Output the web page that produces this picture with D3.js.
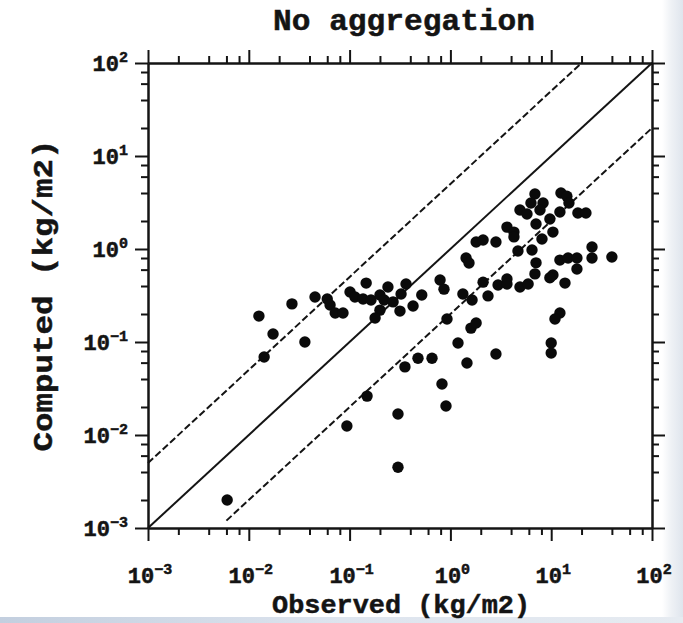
<!DOCTYPE html>
<html>
<head>
<meta charset="utf-8">
<script src="https://cdn.jsdelivr.net/npm/d3@7/dist/d3.min.js"></script>
<style>
  html, body { margin: 0; padding: 0; background: #ffffff; }
  svg { display: block; }
</style>
</head>
<body>
<svg id="chart" width="683" height="623"></svg>
<script>
// ---------------- data ----------------
const titleText = "No aggregation";
const xLabelText = "Observed (kg/m2)";
const yLabelText = "Computed (kg/m2)";

const majorExponents = [-3, -2, -1, 0, 1, 2];
const minorMultipliers = [2, 4, 6, 8];

// observed (x) and computed (y) values, kg/m2
const observed = [
  0.0061, 0.0126, 0.0142, 0.0174, 0.0268, 0.036, 0.0454, 0.060, 0.064, 0.072,
  0.086, 0.101, 0.113, 0.136, 0.146, 0.163, 0.20, 0.24, 0.22, 0.27,
  0.20, 0.179, 0.316, 0.324, 0.363, 0.426, 0.52, 0.79, 0.864, 0.094,
  0.149, 0.302, 0.302, 0.354, 0.477, 0.657, 0.825, 0.904, 0.925, 1.19,
  1.46, 1.60, 1.80, 2.83, 1.33, 1.64, 2.36, 1.43, 1.53, 1.80,
  2.11, 2.83, 2.11, 2.97, 3.64, 3.64, 4.9, 5.9,
  6.9, 12.5, 14.3, 6.3, 8.3, 15.0, 4.9, 5.75, 7.74, 9.7,
  12.2, 18.4, 22.1, 7.07, 3.64, 4.27, 4.27, 10.4, 8.1, 4.68,
  6.45, 25.4, 25.4, 40.0, 12.2, 14.7, 18.0, 18.0, 7.07, 6.9,
  10.4, 9.7, 13.7, 12.2, 10.9, 10.0, 10.0
];
const computed = [
  0.0020, 0.19, 0.069, 0.122, 0.257, 0.10, 0.305, 0.29, 0.25, 0.205,
  0.205, 0.345, 0.305, 0.29, 0.43, 0.283, 0.32, 0.39, 0.283, 0.27,
  0.22, 0.181, 0.215, 0.328, 0.42, 0.244, 0.32, 0.464, 0.37, 0.0125,
  0.0262, 0.0168, 0.0045, 0.054, 0.067, 0.067, 0.0353, 0.0205, 0.177, 0.0975,
  0.0594, 0.141, 0.16, 0.0743, 0.328, 0.283, 0.313, 0.80, 0.707, 1.19,
  1.25, 1.19, 0.44, 0.41, 0.475, 0.42, 0.39, 0.42,
  3.9, 4.0, 3.7, 3.12, 3.12, 3.12, 2.63, 2.38, 2.63, 2.1,
  2.5, 2.44, 2.44, 1.86, 1.72, 1.52, 1.35, 1.52, 1.28, 0.95,
  0.975, 1.05, 0.80, 0.82, 0.76, 0.80, 0.80, 0.61, 0.71, 0.54,
  0.525, 0.49, 0.43, 0.205, 0.177, 0.0975, 0.076
];

// reference lines: 1:1 and factor-of-5 bounds
const oneToOne = [[0.001, 0.001], [100, 100]];
const upperBound = [[0.001, 0.005], [20, 100]];
const lowerBound = [[0.006, 0.0012], [100, 20]];

// ---------------- drawing ----------------
const svg = d3.select("#chart");
const W = 683, H = 623;
const margin = { left: 148, right: 31, top: 63, bottom: 95 };
const x = d3.scaleLog().domain([1e-3, 1e2]).range([margin.left, W - margin.right]);
const y = d3.scaleLog().domain([1e-3, 1e2]).range([H - margin.bottom, margin.top]);

const FONT = "'Liberation Mono', 'Courier New', monospace";
const INK = "#141414";

// background with slide-like edges
const defs = svg.append("defs");
const gR = defs.append("linearGradient").attr("id", "gR").attr("x1", 0).attr("x2", 1).attr("y1", 0).attr("y2", 0);
gR.append("stop").attr("offset", "0").attr("stop-color", "#ffffff");
gR.append("stop").attr("offset", "0.45").attr("stop-color", "#eef1f5");
gR.append("stop").attr("offset", "1").attr("stop-color", "#dfe5ed");
const gB = defs.append("linearGradient").attr("id", "gB").attr("x1", 0).attr("x2", 1).attr("y1", 0).attr("y2", 0);
gB.append("stop").attr("offset", "0").attr("stop-color", "#c3cfdf");
gB.append("stop").attr("offset", "0.5").attr("stop-color", "#dde4ee");
gB.append("stop").attr("offset", "1").attr("stop-color", "#e6ebf1");

svg.append("rect").attr("width", W).attr("height", H).attr("fill", "#ffffff");
svg.append("rect").attr("x", 662).attr("y", 0).attr("width", W - 662).attr("height", H).attr("fill", "url(#gR)");
svg.append("rect").attr("x", 0).attr("y", 617).attr("width", W).attr("height", H - 617).attr("fill", "url(#gB)");

// tick values
const majors = majorExponents.map(e => Math.pow(10, e));
const minors = [];
majorExponents.slice(0, -1).forEach(e => minorMultipliers.forEach(m => minors.push(m * Math.pow(10, e))));

function styleAxis(g) {
  g.selectAll("path.domain").attr("stroke", INK).attr("stroke-width", 2);
  g.selectAll(".tick line").attr("stroke", INK).attr("stroke-width", 2);
  g.selectAll(".tick text").remove();
}

const x0 = x.range()[0], x1 = x.range()[1], y0 = y.range()[0], y1 = y.range()[1];
const axes = [
  { gen: d3.axisBottom, scale: x, tr: `translate(0,${y0})` },
  { gen: d3.axisTop, scale: x, tr: `translate(0,${y1})` },
  { gen: d3.axisLeft, scale: y, tr: `translate(${x0},0)` },
  { gen: d3.axisRight, scale: y, tr: `translate(${x1},0)` }
];
axes.forEach(a => {
  svg.append("g").attr("transform", a.tr)
    .call(a.gen(a.scale).tickValues(minors).tickSize(7).tickSizeOuter(0).tickFormat(() => ""))
    .call(styleAxis);
  svg.append("g").attr("transform", a.tr)
    .call(a.gen(a.scale).tickValues(majors).tickSize(13).tickSizeOuter(0).tickFormat(() => ""))
    .call(styleAxis);
});

// text helper: bold mono with slight stroke for heavier look
function heavy(sel, size) {
  return sel.attr("font-family", FONT).attr("font-weight", "bold").attr("font-size", size)
    .attr("fill", INK).attr("stroke", INK).attr("stroke-width", 0.5);
}

// tick labels 10^n
function supLabel(sel, e) {
  sel.append("tspan").text("10");
  sel.append("tspan").attr("font-size", 15).attr("dy", -9).text(e < 0 ? "\u2212" + Math.abs(e) : String(e));
}
majorExponents.forEach(e => {
  const v = Math.pow(10, e);
  const tx = heavy(svg.append("text").attr("x", x(v) + 2).attr("y", 583).attr("text-anchor", "middle"), 22);
  supLabel(tx, e);
  const ty = heavy(svg.append("text").attr("x", 128).attr("y", y(v) + 8).attr("text-anchor", "end"), 22);
  supLabel(ty, e);
});

// reference lines
const line = d3.line().x(d => x(d[0])).y(d => y(d[1]));
svg.append("path").datum(oneToOne).attr("d", line).attr("stroke", INK).attr("stroke-width", 2).attr("fill", "none");
svg.append("path").datum(upperBound).attr("d", line).attr("stroke", INK).attr("stroke-width", 2)
  .attr("stroke-dasharray", "7,3").attr("fill", "none");
svg.append("path").datum(lowerBound).attr("d", line).attr("stroke", INK).attr("stroke-width", 2)
  .attr("stroke-dasharray", "7,3").attr("fill", "none");

// points
svg.append("g").selectAll("circle").data(observed.map((o, i) => [o, computed[i]]))
  .join("circle")
  .attr("cx", d => x(d[0])).attr("cy", d => y(d[1]))
  .attr("r", 5.7).attr("fill", "#0a0a0a");

// title and axis labels
heavy(svg.append("text").attr("x", 404).attr("y", 30).attr("text-anchor", "middle"), 30)
  .attr("textLength", 262).attr("lengthAdjust", "spacingAndGlyphs")
  .text(titleText);
heavy(svg.append("text").attr("x", 401).attr("y", 613).attr("text-anchor", "middle"), 26)
  .attr("textLength", 258).attr("lengthAdjust", "spacingAndGlyphs")
  .text(xLabelText);
heavy(svg.append("text").attr("transform", `translate(52,${(y0 + y1) / 2}) rotate(-90)`).attr("text-anchor", "middle"), 28)
  .attr("textLength", 312).attr("lengthAdjust", "spacingAndGlyphs")
  .text(yLabelText);
</script>
</body>
</html>
